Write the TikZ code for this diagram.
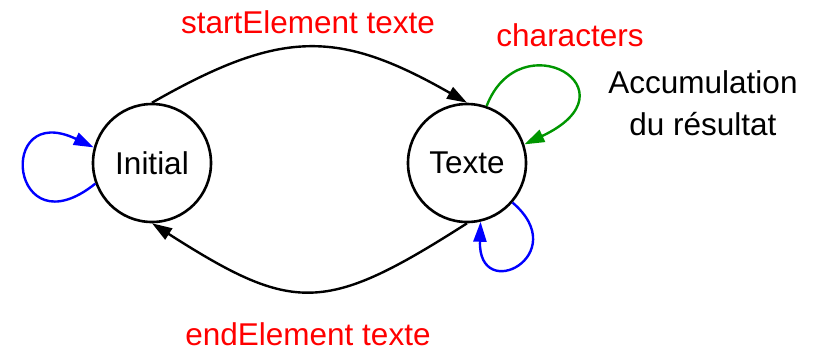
\documentclass[tikz,border=0pt]{standalone}
\usepackage{fontspec}
\setmainfont{Liberation Sans}
\usetikzlibrary{arrows.meta}
\definecolor{lblred}{RGB}{255,0,0}
\definecolor{loopblue}{RGB}{0,0,255}
\definecolor{loopgreen}{RGB}{0,150,0}
\begin{document}
\begin{tikzpicture}[x=0.5pt,y=-0.5pt,
  font=\fontsize{15.75}{19.5}\selectfont,
  state/.style={circle,draw,line width=1.3pt,minimum size=59pt,inner sep=0pt},
  edge/.style={line width=1.2pt,-{Triangle[length=10pt,width=6.5pt]}},
  lbl/.style={text=lblred,inner sep=0pt}]
\useasboundingbox (0,0) rectangle (816,350);
\node[state] (I) at (152,163) {Initial};
\node[state] (T) at (467,163) {Texte};
\node[lbl] (ls) at (308,22) {startElement texte};
\node[lbl] (le) at (308,334) {endElement texte};
\node[lbl] (lc) at (570,35) {characters};
\node[align=center,inner sep=0pt] (acc) at (703,103) {Accumulation\\[1.5pt]du résultat};
\draw[edge] (I.90) .. controls (281,29) and (338,29) .. (T.90);
\draw[edge] (T.270) .. controls (325,314) and (294,314) .. (I.270);
\draw[edge,loopblue] (I.200) .. controls (10,252) and (-5,100) .. (I.165);
\draw[edge,loopgreen] (T.71) .. controls (520,20) and (640,90) .. (T.18);
\draw[edge,loopblue] (T.-41) .. controls (574,255) and (478,305) .. (T.-77);
\end{tikzpicture}
\end{document}
